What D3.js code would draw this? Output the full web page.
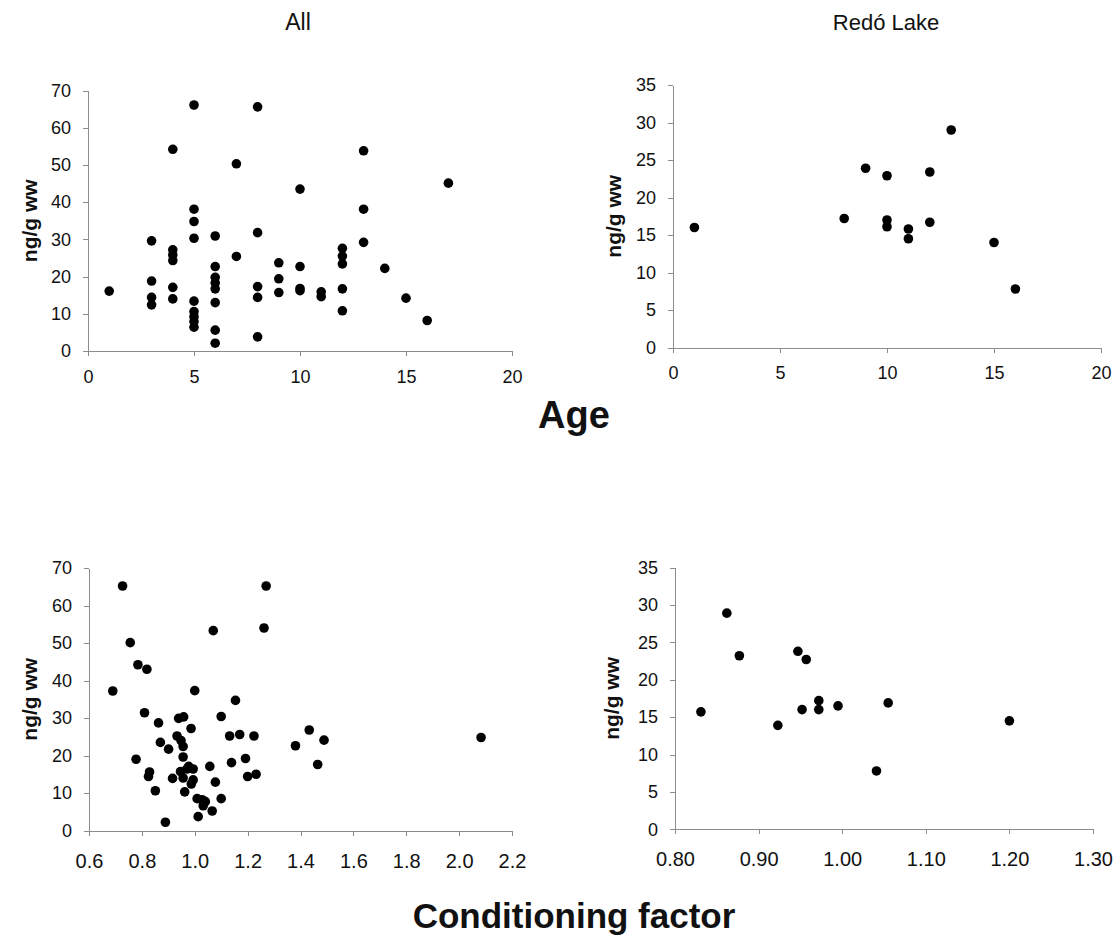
<!DOCTYPE html>
<html>
<head>
<meta charset="utf-8">
<script src="https://cdn.jsdelivr.net/npm/d3@7"></script>
<style>
  html, body { margin: 0; padding: 0; background: #fff; }
  svg { display: block; font-family: "Liberation Sans", Arial, sans-serif; }
  .axis path, .axis line { stroke: #8c8c8c; stroke-width: 1; shape-rendering: crispEdges; }
  .axis text { fill: #111; }
</style>
</head>
<body>
<svg id="chart" width="1119" height="951"></svg>
<script>
// PCB concentration (ng/g ww) against fish age, all fish
const ageAll = [
  1,
  3, 3, 3, 3,
  4, 4, 4, 4, 4, 4,
  5, 5, 5, 5, 5, 5, 5, 5, 5,
  6, 6, 6, 6, 6, 6, 6, 6,
  7, 7,
  8, 8, 8, 8, 8,
  9, 9, 9,
  10, 10, 10, 10,
  11, 11,
  12, 12, 12, 12, 12,
  13, 13, 13,
  14, 15, 16, 17
];
const concAgeAll = [
  16.1,
  29.6, 18.8, 14.4, 12.4,
  54.2, 27.2, 25.8, 24.3, 17.1, 14.0,
  66.1, 38.1, 34.8, 30.3, 13.4, 10.6, 9.2, 7.9, 6.4,
  30.9, 22.7, 19.8, 18.3, 16.7, 13.0, 5.6, 2.1,
  50.3, 25.4,
  65.6, 31.8, 17.3, 14.4, 3.8,
  23.7, 19.4, 15.7,
  43.5, 22.7, 16.8, 16.2,
  15.9, 14.6,
  27.6, 25.5, 23.4, 16.7, 10.8,
  53.8, 38.1, 29.2,
  22.2, 14.2, 8.2, 45.1
];

// Redó Lake fish only
const ageRedo = [1, 8, 9, 10, 10, 10, 11, 11, 12, 12, 13, 15, 16];
const concAgeRedo = [16.0, 17.2, 23.9, 22.9, 17.0, 16.1, 15.8, 14.5, 23.4, 16.7, 29.0, 14.0, 7.8];

// Conditioning factor, all fish
const cfAll = [
  0.727, 0.756, 0.785, 0.819, 0.690, 0.810, 0.778, 0.863, 0.870, 0.901,
  0.829, 0.825, 0.851, 0.889, 0.916, 0.933, 0.939, 0.958, 0.948, 0.956,
  0.956, 0.946, 0.956, 0.971, 0.977, 0.986, 1.000, 0.994, 0.994, 0.987,
  0.962, 1.009, 1.028, 1.040, 1.032, 1.013, 1.066, 1.057, 1.078, 1.070,
  1.100, 1.100, 1.132, 1.139, 1.154, 1.170, 1.192, 1.200, 1.224, 1.232,
  1.262, 1.270, 1.381, 1.433, 1.489, 1.465, 2.083
];
const concCfAll = [
  65.2, 50.1, 44.2, 43.0, 37.2, 31.4, 19.0, 28.7, 23.5, 21.7,
  15.6, 14.4, 10.6, 2.2, 13.9, 25.2, 29.9, 30.3, 24.0, 22.4,
  19.6, 15.7, 14.0, 16.4, 17.1, 27.2, 37.3, 16.4, 13.5, 12.4,
  10.3, 8.5, 8.2, 7.7, 6.6, 3.7, 5.2, 17.1, 12.9, 53.3,
  30.4, 8.5, 25.2, 18.1, 34.7, 25.6, 19.2, 14.4, 25.2, 15.0,
  54.0, 65.2, 22.6, 26.8, 24.1, 17.6, 24.8
];

// Conditioning factor, Redó Lake fish
const cfRedo = [0.831, 0.862, 0.877, 0.923, 0.947, 0.957, 0.952, 0.972, 0.972, 0.995, 1.055, 1.041, 1.200];
const concCfRedo = [15.7, 28.9, 23.2, 13.9, 23.8, 22.7, 16.0, 17.2, 16.0, 16.5, 16.9, 7.8, 14.5];

// Axis ticks
const ageTicks = [0, 5, 10, 15, 20];
const concTicksAll = [0, 10, 20, 30, 40, 50, 60, 70];
const concTicksRedo = [0, 5, 10, 15, 20, 25, 30, 35];
const cfTicksAll = [0.6, 0.8, 1.0, 1.2, 1.4, 1.6, 1.8, 2.0, 2.2];
const cfTicksRedo = [0.8, 0.9, 1.0, 1.1, 1.2, 1.3];

const panelTitles = ["All", "Redó Lake"];
const yLabel = "ng/g ww";
const groupTitles = ["Age", "Conditioning factor"];

const svg = d3.select("#chart");

function panel(opts) {
  const x = d3.scaleLinear().domain(opts.xDomain).range(opts.xRange);
  const y = d3.scaleLinear().domain(opts.yDomain).range(opts.yRange);
  const g = svg.append("g");

  g.append("g")
    .attr("class", "axis")
    .attr("transform", `translate(0,${opts.yRange[0]})`)
    .call(d3.axisBottom(x).tickValues(opts.xTicks).tickFormat(d3.format(opts.xFmt))
      .tickSize(5).tickSizeOuter(0).tickPadding(opts.xPad))
    .selectAll("text").style("font-size", opts.xFont + "px");

  g.append("g")
    .attr("class", "axis")
    .attr("transform", `translate(${opts.xRange[0]},0)`)
    .call(d3.axisLeft(y).tickValues(opts.yTicks).tickFormat(d3.format("d"))
      .tickSize(5).tickSizeOuter(0).tickPadding(12))
    .selectAll("text").style("font-size", opts.yFont + "px");

  g.append("g").selectAll("circle")
    .data(opts.xs.map((v, i) => [v, opts.ys[i]]))
    .join("circle")
    .attr("cx", d => x(d[0]))
    .attr("cy", d => y(d[1]))
    .attr("r", 4.8)
    .attr("fill", "#000");

  g.append("text")
    .attr("transform", `translate(${opts.labelX},${(opts.yRange[0] + opts.yRange[1]) / 2}) rotate(-90)`)
    .attr("text-anchor", "middle")
    .attr("font-weight", "bold")
    .attr("font-size", 21)
    .attr("fill", "#111")
    .text(yLabel);
}

panel({
  xs: ageAll, ys: concAgeAll,
  xDomain: [0, 20], xRange: [88, 512], xTicks: ageTicks, xFmt: "d", xFont: 18, xPad: 14,
  yDomain: [0, 70], yRange: [351, 90.5], yTicks: concTicksAll, yFont: 18,
  labelX: 37
});
panel({
  xs: ageRedo, ys: concAgeRedo,
  xDomain: [0, 20], xRange: [673, 1101], xTicks: ageTicks, xFmt: "d", xFont: 18, xPad: 14,
  yDomain: [0, 35], yRange: [347.5, 85], yTicks: concTicksRedo, yFont: 18,
  labelX: 621
});
panel({
  xs: cfAll, ys: concCfAll,
  xDomain: [0.6, 2.2], xRange: [89, 512], xTicks: cfTicksAll, xFmt: ".1f", xFont: 20, xPad: 18,
  yDomain: [0, 70], yRange: [830.5, 568], yTicks: concTicksAll, yFont: 18,
  labelX: 37
});
panel({
  xs: cfRedo, ys: concCfRedo,
  xDomain: [0.8, 1.3], xRange: [675, 1093], xTicks: cfTicksRedo, xFmt: ".2f", xFont: 20, xPad: 18,
  yDomain: [0, 35], yRange: [829.3, 567.5], yTicks: concTicksRedo, yFont: 18,
  labelX: 619
});

// Column titles
svg.append("text").attr("x", 298).attr("y", 30).attr("text-anchor", "middle")
  .attr("font-size", 23).attr("fill", "#111").text(panelTitles[0]);
svg.append("text").attr("x", 886).attr("y", 30).attr("text-anchor", "middle")
  .attr("font-size", 22).attr("fill", "#111").text(panelTitles[1]);

// Row titles
svg.append("text").attr("x", 574).attr("y", 428).attr("text-anchor", "middle")
  .attr("font-size", 38).attr("font-weight", "bold").attr("fill", "#111").text(groupTitles[0]);
svg.append("text").attr("x", 574).attr("y", 928).attr("text-anchor", "middle")
  .attr("font-size", 35).attr("font-weight", "bold").attr("fill", "#111").text(groupTitles[1]);
</script>
</body>
</html>
